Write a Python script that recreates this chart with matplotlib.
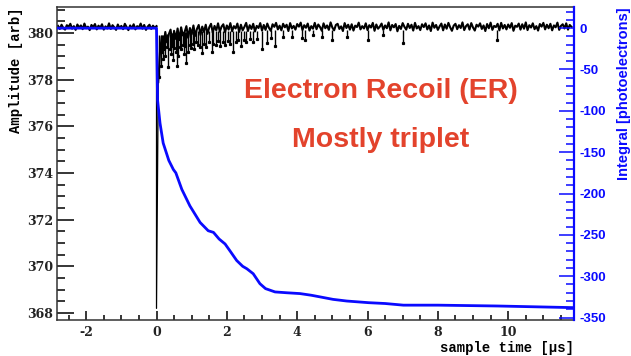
import numpy as np
import matplotlib.pyplot as plt
from matplotlib.ticker import MultipleLocator

plt.rcParams['axes.unicode_minus'] = False

# ---- waveform (left axis) ----
# pre-trigger samples, t = -2.8 .. -0.05 us (step 0.05)
pre_amp = [380.31, 380.18, 380.36, 380.22, 380.15, 380.34, 380.27, 380.40, 380.19, 380.30,
           380.14, 380.37, 380.24, 380.33, 380.17, 380.41, 380.21, 380.28, 380.13, 380.35,
           380.26, 380.39, 380.16, 380.32, 380.23, 380.38, 380.15, 380.29, 380.20, 380.42,
           380.18, 380.34, 380.25, 380.14, 380.37, 380.22, 380.31, 380.17, 380.40, 380.26,
           380.13, 380.33, 380.21, 380.38, 380.16, 380.30, 380.24, 380.41, 380.19, 380.35,
           380.14, 380.28, 380.36, 380.18, 380.32, 380.23]
# trigger pulse, t = 0
trig_t = [0.0, 0.0, 0.05]
trig_amp = [380.3, 368.2, 377.9]
# post-trigger samples, t = 0.1 .. 11.8 us (step 0.05)
post_amp = [379.20, 379.85, 379.45, 380.05, 379.60, 379.95, 380.15, 379.55, 380.10, 379.75,
            380.20, 379.70, 380.25, 379.90, 380.05, 380.30, 379.80, 380.22, 379.95, 380.33,
            379.88, 380.18, 380.35, 379.92, 380.28, 380.05, 380.36, 379.97, 380.25,
            380.40, 380.02, 380.31, 380.12, 380.42, 380.06, 380.28, 380.38, 380.04, 380.33,
            380.15, 380.43, 380.08, 380.30, 380.20, 380.41, 380.05, 380.36, 380.12, 380.27,
            380.44, 380.09, 380.34, 380.18, 380.40, 380.07, 380.31, 380.22, 380.43, 380.11,
            380.35, 380.14, 380.41, 380.22, 380.10, 380.38, 380.27, 380.44, 380.16, 380.32,
            380.12, 380.40, 380.25, 380.36, 380.09, 380.43, 380.20, 380.31, 380.15, 380.39,
            380.28, 380.45, 380.13, 380.34, 380.23, 380.41, 380.11, 380.30, 380.19, 380.44,
            380.17, 380.37, 380.26, 380.10, 380.42, 380.21, 380.33, 380.14, 380.46, 380.24,
            380.12, 380.35, 380.40, 380.18, 380.29, 380.09, 380.43, 380.22, 380.36, 380.15,
            380.38, 380.11, 380.32, 380.26, 380.45, 380.16, 380.30, 380.20, 380.42, 380.13,
            380.34, 380.24, 380.44, 380.10, 380.37, 380.19, 380.28, 380.41, 380.14, 380.33,
            380.21, 380.46, 380.12, 380.35, 380.25, 380.39, 380.08, 380.31, 380.18, 380.43,
            380.27, 380.15, 380.40, 380.22, 380.36, 380.11, 380.44, 380.20, 380.30, 380.13,
            380.38, 380.26, 380.42, 380.16, 380.33, 380.09, 380.45, 380.23, 380.35, 380.14,
            380.29, 380.41, 380.12, 380.37, 380.19, 380.44, 380.25, 380.10, 380.32, 380.40,
            380.17, 380.34, 380.22, 380.46, 380.13, 380.30, 380.38, 380.15, 380.43, 380.24,
            380.11, 380.36, 380.28, 380.42, 380.18, 380.33, 380.09, 380.39, 380.21, 380.45,
            380.14, 380.31, 380.26, 380.40, 380.12, 380.44, 380.20, 380.35, 380.16, 380.37,
            380.23, 380.43, 380.10, 380.32, 380.27, 380.41, 380.15, 380.38, 380.19, 380.46,
            380.13, 380.34, 380.24, 380.42, 380.17, 380.30, 380.11, 380.39, 380.28, 380.44,
            380.16, 380.36, 380.21, 380.40, 380.12, 380.33, 380.25, 380.45, 380.14, 380.31,
            380.38, 380.20, 380.42, 380.15, 380.35, 380.27]

# single photon spikes: time, local baseline, minimum
spike_t = [0.08, 0.12, 0.15, 0.18, 0.22, 0.25, 0.29, 0.33, 0.37, 0.40, 0.44, 0.47, 0.51,
           0.55, 0.58, 0.62, 0.66, 0.70, 0.74, 0.78, 0.82, 0.85, 0.90, 0.94, 0.98, 1.03,
           1.08, 1.13, 1.18, 1.24, 1.29, 1.35, 1.42, 1.50, 1.57, 1.62, 1.68, 1.74, 1.80,
           1.88, 1.95, 2.02, 2.10, 2.18, 2.25, 2.33, 2.40, 2.48, 2.55, 2.65, 2.75, 2.87,
           2.99, 3.14, 3.25, 3.37, 3.60, 3.85, 4.14, 4.23, 4.45, 4.70, 5.00, 5.42, 6.02,
           6.44, 7.01, 9.69]
spike_top = [379.9, 379.9, 379.9, 379.9, 379.9, 379.9, 379.95, 379.95, 379.95, 380.0, 380.0,
             380.0, 380.0, 380.0, 380.0, 380.0, 380.05, 380.05, 380.05, 380.05, 380.05,
             380.05, 380.05, 380.1, 380.1, 380.1, 380.1, 380.1, 380.1, 380.1, 380.1, 380.1,
             380.1, 380.1, 380.1, 380.1, 380.1, 380.1, 380.1, 380.1, 380.1, 380.1, 380.1,
             380.1, 380.1, 380.1, 380.1, 380.1, 380.1, 380.1, 380.1, 380.1, 380.1, 380.15,
             380.15, 380.15, 380.15, 380.15, 380.15, 380.15, 380.15, 380.15, 380.15, 380.15,
             380.15, 380.15, 380.15, 380.15]
spike_min = [378.1, 378.6, 379.2, 378.9, 379.3, 379.0, 379.4, 378.55, 379.3, 379.1, 379.45,
             378.85, 379.35, 379.2, 378.6, 379.0, 379.4, 379.3, 379.5, 379.1, 379.45, 378.7,
             379.2, 379.5, 379.35, 379.55, 379.3, 379.6, 379.5, 379.4, 379.14, 379.55, 379.4,
             379.6, 379.2, 379.55, 379.5, 379.65, 379.45, 379.6, 379.5, 379.65, 379.55,
             379.2, 379.6, 379.7, 379.45, 379.7, 379.6, 379.75, 379.6, 379.75, 379.34,
             379.57, 379.8, 379.45, 379.83, 379.85, 379.8, 379.7, 379.9, 379.83, 379.7,
             379.83, 379.7, 379.9, 379.57, 379.7]

# ---- integral (right axis) ----
int_t = [-2.83, -0.02, 0.0, 0.03, 0.10, 0.19, 0.35, 0.48, 0.55, 0.72, 0.95, 1.24, 1.47,
         1.62, 1.78, 1.95, 2.10, 2.28, 2.45, 2.57, 2.75, 2.94, 3.10, 3.37, 3.70, 4.08,
         4.40, 4.65, 5.02, 5.41, 6.03, 6.50, 7.02, 8.00, 9.68, 11.87]
int_val = [0, 0, 0, -87, -115, -139, -160, -171, -175, -195, -215, -235, -245,
           -247, -255, -261, -270, -281, -288, -291, -297, -309, -315, -319, -320, -321,
           -323, -325, -328, -330, -332, -333, -335, -335, -336, -338]

pre_t = np.round(np.linspace(-2.8, -0.05, len(pre_amp)), 3)
post_t = np.round(np.linspace(0.1, 11.8, len(post_amp)), 3)

blue = '#0a0aff'
serif_bold = {'family': 'DejaVu Serif', 'weight': 'bold', 'size': 9}
mono_bold = {'family': 'Liberation Mono', 'weight': 'bold', 'size': 10}

fig = plt.figure(figsize=(6.31, 3.56), dpi=100)
ax = fig.add_axes([0.0903, 0.101, 0.8193, 0.878])

ax.plot(np.concatenate([pre_t, [0.0]]), pre_amp + [380.3], color='black', lw=1.5)
ax.plot(trig_t, trig_amp, color='black', lw=0.9)
ax.plot(np.concatenate([[0.05], post_t]), [377.9] + post_amp, color='black', lw=1.5)
ax.vlines(spike_t, spike_min, spike_top, color='black', lw=1.0)
ax.plot(spike_t, spike_min, 's', color='black', ms=1.3)

ax.set_xlim(-2.83, 11.87)
ax.set_ylim(367.7, 381.1)
ax.xaxis.set_major_locator(MultipleLocator(2))
ax.xaxis.set_minor_locator(MultipleLocator(0.5))
ax.yaxis.set_major_locator(MultipleLocator(2))
ax.yaxis.set_minor_locator(MultipleLocator(0.5))
ax.tick_params(axis='y', which='major', direction='in', length=12, width=1.1, pad=3)
ax.tick_params(axis='y', which='minor', direction='in', length=6, width=1.1)
ax.tick_params(axis='x', which='major', direction='in', length=6.7, width=1.1, pad=4)
ax.tick_params(axis='x', which='minor', direction='in', length=3.6, width=1.1)
for lab in ax.get_xticklabels() + ax.get_yticklabels():
    lab.set_fontproperties(serif_bold)
    lab.set_color('#222222')
for s in ax.spines.values():
    s.set_linewidth(1.1)
    s.set_color('#333333')

ax.set_xlabel('sample time [μs]', fontdict=mono_bold, loc='right')
ax.xaxis.set_label_coords(1.0, -0.066)
ax.xaxis.label.set_va('top')
ax.set_ylabel('Amplitude [arb]', fontdict=mono_bold, loc='top')
ax.yaxis.set_label_coords(-0.066, 1.0)

ax2 = ax.twinx()
ax2.plot(int_t, int_val, color=blue, lw=2.0)
ax2.set_ylim(-353, 25)
ax2.yaxis.set_major_locator(MultipleLocator(50))
ax2.yaxis.set_minor_locator(MultipleLocator(10))
ax2.tick_params(axis='y', which='major', direction='in', length=10.8, width=1.1,
                color=blue, labelcolor=blue, pad=4)
ax2.tick_params(axis='y', which='minor', direction='in', length=5.8, width=1.1, color=blue)
for lab in ax2.get_yticklabels():
    lab.set_fontproperties({'family': 'Liberation Sans', 'weight': 'bold', 'size': 9.5})
ax2.spines['right'].set_color(blue)
ax2.spines['right'].set_linewidth(1.6)
for k in ['left', 'top', 'bottom']:
    ax2.spines[k].set_visible(False)
ax2.set_ylabel('Integral [photoelectrons]', color=blue, loc='top',
               fontdict={'family': 'Liberation Sans', 'weight': 'bold', 'size': 10.5})
ax2.yaxis.set_label_coords(1.083, 1.0)

red = '#e3432c'
fig.text(381 / 631, 1 - 98.3 / 356, 'Electron Recoil (ER)', color=red, ha='center',
         va='baseline', family='Liberation Sans', weight='bold', fontsize=20.5)
fig.text(381 / 631, 1 - 146.7 / 356, 'Mostly triplet', color=red, ha='center',
         va='baseline', family='Liberation Sans', weight='bold', fontsize=20.5)

fig.savefig('out.png', dpi=100)
